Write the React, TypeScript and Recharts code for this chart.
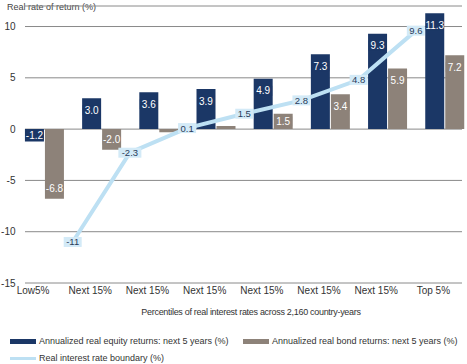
import React from "react"
import {
  ComposedChart,
  Bar,
  Line,
  XAxis,
  YAxis,
  CartesianGrid,
  LabelList,
} from "recharts"

const percentiles = ["Low5%", "Next 15%", "Next 15%", "Next 15%", "Next 15%", "Next 15%", "Next 15%", "Top 5%"]
const equityReturns = [-1.2, 3.0, 3.6, 3.9, 4.9, 7.3, 9.3, 11.3]
const bondReturns = [-6.8, -2.0, -0.3, 0.3, 1.5, 3.4, 5.9, 7.2]
// boundaries sit between neighbouring percentile groups
const rateBoundary = [-11, -2.3, 0.1, 1.5, 2.8, 4.8, 9.6]
const yTicks = [-15, -10, -5, 0, 5, 10]

const NAVY = "#1b3766"
const TAUPE = "#8d8279"
const SKY = "#bde0f3"
const SKY_BOX = "#d3eaf7"
const FONT = "'Liberation Sans', Arial, sans-serif"

const barData = percentiles.map((name, i) => ({
  name,
  equity: equityReturns[i],
  bond: bondReturns[i],
}))

const lineData = rateBoundary.map((v, i) => ({ x: i + 1, rate: v }))

function barLabel(color: string) {
  return (props: any) => {
    const vb = props.viewBox ?? props
    const value = Number(props.value)
    if (Math.abs(value) < 1) return null
    const top = Math.min(vb.y, vb.y + vb.height)
    const bottom = Math.max(vb.y, vb.y + vb.height)
    const h = bottom - top
    const cx = vb.x + vb.width / 2
    const cy = value >= 0 ? top + Math.min(12, h / 2) : bottom - Math.min(10, h / 2)
    const text = value.toFixed(1)
    return (
      <g>
        <rect x={cx - 9} y={cy - 5} width={18} height={10} fill={color} />
        <text x={cx} y={cy + 3.5} textAnchor="middle" fill="#fff" fontSize={10} fontFamily={FONT}>
          {text}
        </text>
      </g>
    )
  }
}

function boundaryLabel(props: any) {
  const vb = props.viewBox ?? props
  const cx = vb.x + (vb.width || 0) / 2
  const cy = vb.y + (vb.height || 0) / 2
  const text = String(props.value)
  const w = text.length * 5 + 3
  return (
    <g>
      <rect x={cx - w / 2} y={cy - 5} width={w} height={10} fill={SKY_BOX} />
      <text x={cx} y={cy + 3.5} textAnchor="middle" fill="#2b3c5a" fontSize={9.5} fontFamily={FONT}>
        {text}
      </text>
    </g>
  )
}

function gridLine(props: any) {
  return (
    <line
      key={`g-${props.y1}`}
      x1={props.x1 + 9.5}
      x2={props.x2 - 11}
      y1={props.y1}
      y2={props.y2}
      stroke="#8a8a8a"
      strokeWidth={1}
    />
  )
}

const smallText: React.CSSProperties = {
  position: "absolute",
  fontSize: 9,
  color: "#333",
  lineHeight: "10px",
  whiteSpace: "nowrap",
}

export default function App() {
  return (
    <div
      style={{
        position: "absolute",
        left: 0,
        top: 0,
        width: 467,
        height: 364,
        overflow: "hidden",
        background: "#fff",
        fontFamily: FONT,
      }}
    >
      <div style={{ ...smallText, left: 7, top: 2, color: "#444" }}>Real rate of return (%)</div>

      <div style={{ position: "absolute", left: 0, top: 0 }}>
        <ComposedChart
          width={473}
          height={300}
          data={barData}
          margin={{ top: 6, right: 0, left: 0, bottom: 0 }}
          barCategoryGap="16.5%"
          barGap={1}
        >
          <CartesianGrid vertical={false} horizontal={gridLine} />
          <XAxis
            dataKey="name"
            xAxisId="cat"
            height={17}
            axisLine={false}
            tickLine={false}
            tickSize={0}
            tickMargin={4}
            interval={0}
            tick={{ fontSize: 10, fill: "#333", fontFamily: FONT, dx: -11 }}
          />
          <XAxis dataKey="x" xAxisId="num" type="number" domain={[0, 8]} hide />
          <YAxis
            width={15.5}
            domain={[-15, 12]}
            ticks={yTicks}
            allowDataOverflow
            axisLine={false}
            tickLine={false}
            tickSize={0}
            tickMargin={0}
            tick={{ fontSize: 10, fill: "#333", fontFamily: FONT }}
          />
          <Bar dataKey="equity" xAxisId="cat" fill={NAVY} isAnimationActive={false}>
            <LabelList dataKey="equity" content={barLabel(NAVY)} />
          </Bar>
          <Bar dataKey="bond" xAxisId="cat" fill={TAUPE} isAnimationActive={false}>
            <LabelList dataKey="bond" content={barLabel(TAUPE)} />
          </Bar>
          <Line
            data={lineData}
            xAxisId="num"
            dataKey="rate"
            stroke={SKY}
            strokeWidth={4}
            dot={false}
            activeDot={false}
            isAnimationActive={false}
          >
            <LabelList dataKey="rate" content={boundaryLabel} />
          </Line>
        </ComposedChart>
      </div>

      <div style={{ ...smallText, left: 0, width: 502, top: 307, textAlign: "center", letterSpacing: -0.3 }}>
        Percentiles of real interest rates across 2,160 country-years
      </div>

      <div style={{ position: "absolute", left: 10, top: 339, width: 26, height: 5, background: NAVY }} />
      <div style={{ ...smallText, left: 39, top: 336 }}>Annualized real equity returns: next 5 years (%)</div>
      <div style={{ position: "absolute", left: 243, top: 339, width: 26, height: 5, background: TAUPE }} />
      <div style={{ ...smallText, left: 272, top: 336 }}>Annualized real bond returns: next 5 years (%)</div>
      <div style={{ position: "absolute", left: 10, top: 357, width: 26, height: 3, background: SKY }} />
      <div style={{ ...smallText, left: 39, top: 353 }}>Real interest rate boundary (%)</div>
    </div>
  )
}
